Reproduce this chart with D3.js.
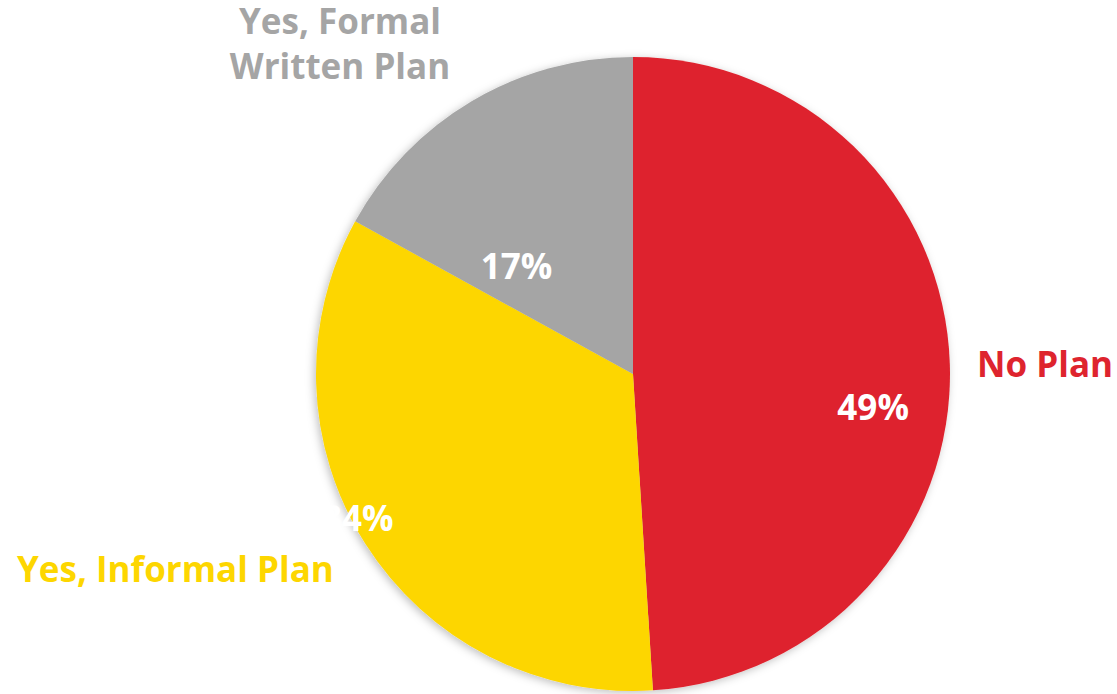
<!DOCTYPE html>
<html>
<head>
<meta charset="utf-8">
<script src="https://cdn.jsdelivr.net/npm/d3@7"></script>
<style>
  body { margin: 0; background: #fff; }
  text { font-family: "Open Sans", "DejaVu Sans", sans-serif; font-weight: 700; }
</style>
</head>
<body>
<svg width="1117" height="694"></svg>
<script>
// slices, clockwise from 12 o'clock
const categories = ["No Plan", "Yes, Informal Plan", "Yes, Formal Written Plan"];
const values = [49, 34, 17];
const colors = ["#DE242E", "#FDD600", "#A5A5A5"];

const svg = d3.select('svg');
const width = +svg.attr('width');
const height = +svg.attr('height');

const cx = 633, cy = 374, radius = 317;

// soft shadow round the pie
const defs = svg.append('defs');
defs.append('filter')
    .attr('id', 'shadow')
    .attr('x', '-10%').attr('y', '-10%')
    .attr('width', '120%').attr('height', '120%')
  .append('feDropShadow')
    .attr('dx', -2).attr('dy', 2)
    .attr('stdDeviation', 4)
    .attr('flood-color', '#000')
    .attr('flood-opacity', 0.25);

const pie = d3.pie().sort(null).value(d => d);
const arcs = pie(values);
const arc = d3.arc().innerRadius(0).outerRadius(radius);

const g = svg.append('g')
    .attr('transform', `translate(${cx}, ${cy})`);

g.append('g')
    .attr('filter', 'url(#shadow)')
  .selectAll('path')
  .data(arcs)
  .join('path')
    .attr('d', arc)
    .attr('fill', (d, i) => colors[i]);

// percentage labels, placed like the "best fit" ones (radius share, angle in degrees from top)
const pctPlace = [[0.765, 98], [0.98, 242.4], [0.5, 312.7]];
g.selectAll('.pct')
  .data(arcs)
  .join('text')
    .attr('class', 'pct')
    .attr('x', (d, i) => radius * pctPlace[i][0] * Math.sin(pctPlace[i][1] * Math.PI / 180))
    .attr('y', (d, i) => -radius * pctPlace[i][0] * Math.cos(pctPlace[i][1] * Math.PI / 180))
    .attr('dy', '0.36em')
    .attr('text-anchor', 'middle')
    .attr('fill', '#fff')
    .style('font-size', '35px')
    .text(d => d.value + '%');

// category names outside the pie
const catPlace = [
  { x: 977, y: 377, anchor: 'start', lines: ["No Plan"] },
  { x: 17, y: 582, anchor: 'start', lines: ["Yes, Informal Plan"] },
  { x: 340, y: 34, anchor: 'middle', lines: ["Yes, Formal", "Written Plan"] }
];
svg.selectAll('.cat')
  .data(categories)
  .join('text')
    .attr('class', 'cat')
    .attr('x', (d, i) => catPlace[i].x)
    .attr('y', (d, i) => catPlace[i].y)
    .attr('text-anchor', (d, i) => catPlace[i].anchor)
    .attr('fill', (d, i) => colors[i])
    .style('font-size', '35px')
    .each(function(d, i) {
      const t = d3.select(this);
      catPlace[i].lines.forEach((line, j) => {
        t.append('tspan')
          .attr('x', catPlace[i].x)
          .attr('dy', j === 0 ? 0 : 45)
          .text(line);
      });
    });
</script>
</body>
</html>
